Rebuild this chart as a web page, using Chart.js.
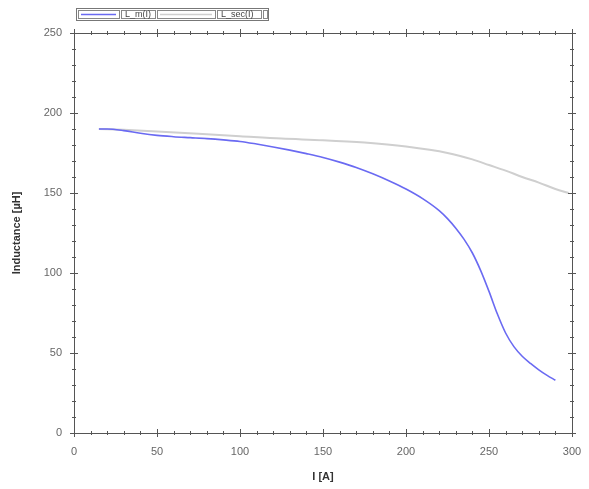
<!DOCTYPE html>
<html>
<head>
<meta charset="utf-8">
<script src="https://cdn.jsdelivr.net/npm/chart.js@4/dist/chart.umd.min.js"></script>
<style>
  html, body { margin: 0; padding: 0; background: #fff; }
  #wrap { width: 589px; height: 489px; }
</style>
</head>
<body>
<div id="wrap"><canvas id="myChart" width="589" height="489"></canvas></div>
<script>
// current in A
const currentM = [15, 20, 30, 40, 50, 60, 70, 80, 90, 100, 110, 120, 130, 140, 150, 160, 170, 180, 190, 200,
  210, 220, 225, 230, 235, 240, 245, 250, 255, 260, 265, 270, 275, 280, 285, 290];
// L_m(I) in uH
const inductM = [190, 190, 189, 187.3, 186, 185.2, 184.6, 184, 183.2, 182.2, 180.6, 178.8, 176.8, 174.6, 172.2, 169.3, 166, 162, 157.5, 152.5,
  146.5, 139, 134, 128, 121, 112.5, 101.5, 88.5, 74.5, 62.5, 54, 48, 43.5, 39.5, 36, 33];

const currentS = [15, 30, 50, 75, 100, 125, 150, 175, 200, 225, 240, 250, 260, 270, 280, 290, 298];
// L_s(I) in uH
const inductS = [190, 189.5, 188.5, 187, 185.5, 184, 183, 181.5, 179, 175, 171, 167.5, 164, 160, 156.5, 152.5, 150];

const seriesNames = ['L_m(I)', 'L_sec(I)'];
const xTicks = [0, 50, 100, 150, 200, 250, 300];
const yTicks = [0, 50, 100, 150, 200, 250];

const toPoints = (xs, ys) => xs.map((x, i) => ({ x: x, y: ys[i] }));

// frame with ticks on all four sides, crossing the border
const framePlugin = {
    id: 'frame',
    afterDraw(chart) {
        const ctx = chart.ctx;
        const a = chart.chartArea;
        const sx = chart.scales.x, sy = chart.scales.y;
        ctx.save();
        ctx.strokeStyle = '#555';
        ctx.lineWidth = 1;
        ctx.strokeRect(a.left + 0.5, a.top + 0.5, a.right - a.left, a.bottom - a.top);
        ctx.beginPath();
        for (let v = 0; v <= 300; v += 10) {
            const px = Math.round(sx.getPixelForValue(v)) + 0.5;
            const len = v % 50 === 0 ? 4 : 2;
            ctx.moveTo(px, a.bottom - len); ctx.lineTo(px, a.bottom + len);
            ctx.moveTo(px, a.top - len); ctx.lineTo(px, a.top + len);
        }
        for (let v = 0; v <= 250; v += 10) {
            const py = Math.round(sy.getPixelForValue(v)) + 0.5;
            const len = v % 50 === 0 ? 4 : 2;
            ctx.moveTo(a.left - len, py); ctx.lineTo(a.left + len, py);
            ctx.moveTo(a.right - len, py); ctx.lineTo(a.right + len, py);
        }
        ctx.stroke();
        ctx.restore();
    }
};

// boxed legend strip above the plot
const legendPlugin = {
    id: 'boxLegend',
    afterDraw(chart) {
        const ctx = chart.ctx;
        ctx.save();
        ctx.font = '9px "Liberation Sans", Arial, sans-serif';
        ctx.textBaseline = 'middle';
        const top = 8, h = 12;
        ctx.strokeStyle = '#777';
        ctx.lineWidth = 1;
        ctx.strokeRect(76.5, top + 0.5, 192, h);
        const cells = [
            { x: 78, w: 41, line: chart.data.datasets[0].borderColor },
            { x: 121, w: 34, text: seriesNames[0] },
            { x: 157, w: 58, line: chart.data.datasets[1].borderColor },
            { x: 217, w: 44, text: seriesNames[1] },
            { x: 263, w: 4 }
        ];
        cells.forEach(c => {
            ctx.strokeStyle = '#888';
            ctx.strokeRect(c.x + 0.5, top + 2.5, c.w, h - 4);
            if (c.line) {
                ctx.strokeStyle = c.line;
                ctx.lineWidth = 1.5;
                ctx.beginPath();
                ctx.moveTo(c.x + 3, top + h / 2 + 0.5);
                ctx.lineTo(c.x + c.w - 3, top + h / 2 + 0.5);
                ctx.stroke();
                ctx.lineWidth = 1;
            }
            if (c.text) {
                ctx.fillStyle = '#444';
                ctx.fillText(c.text, c.x + 4, top + h / 2 + 1);
            }
        });
        ctx.restore();
    }
};

const config = {
    type: 'line',
    data: {
        datasets: [{
            label: seriesNames[0],
            data: toPoints(currentM, inductM),
            borderColor: '#6a6af2',
            borderWidth: 1.6,
            pointRadius: 0,
            cubicInterpolationMode: 'monotone'
        }, {
            label: seriesNames[1],
            data: toPoints(currentS, inductS),
            borderColor: '#cfcfcf',
            borderWidth: 2,
            pointRadius: 0,
            cubicInterpolationMode: 'monotone'
        }]
    },
    options: {
        responsive: false,
        animation: false,
        layout: { padding: { left: 0, top: 33, right: 17, bottom: 0 } },
        plugins: { legend: { display: false }, tooltip: { enabled: false } },
        scales: {
            x: {
                type: 'linear',
                min: 0, max: 300,
                afterFit(s) { s.height = 56; s.paddingLeft = 0; s.paddingRight = 0; },
                afterBuildTicks(s) { s.ticks = xTicks.map(v => ({ value: v })); },
                grid: { display: false, drawTicks: false },
                border: { display: false },
                ticks: { padding: 12, color: '#666', font: { family: '"Liberation Sans", Arial', size: 11 } },
                title: { display: true, text: 'I [A]', color: '#333', padding: { top: 4, bottom: 5 },
                    font: { family: '"Liberation Sans", Arial', size: 11, weight: 'bold' } }
            },
            y: {
                type: 'linear',
                min: 0, max: 250,
                afterFit(s) { s.width = 74; },
                afterBuildTicks(s) { s.ticks = yTicks.map(v => ({ value: v })); },
                grid: { display: false, drawTicks: false },
                border: { display: false },
                ticks: { padding: 12, color: '#666', font: { family: '"Liberation Sans", Arial', size: 11 } },
                title: { display: true, text: 'Inductance [µH]', color: '#333', padding: { top: 10, bottom: 0 },
                    font: { family: '"Liberation Sans", Arial', size: 11, weight: 'bold' } }
            }
        }
    },
    plugins: [framePlugin, legendPlugin]
};

new Chart(document.getElementById('myChart'), config);
</script>
</body>
</html>
